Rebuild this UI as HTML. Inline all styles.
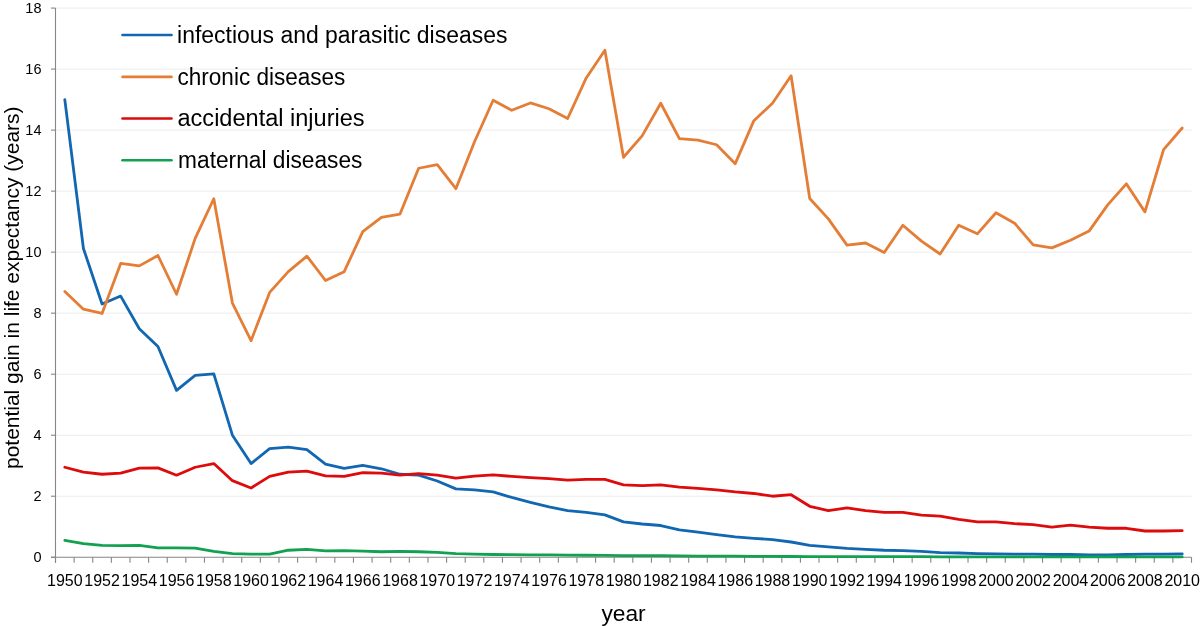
<!DOCTYPE html><html><head><meta charset="utf-8"><style>html,body{margin:0;padding:0;background:#fff;}svg{display:block;will-change:transform;}text{font-family:"Liberation Sans",sans-serif;fill:#000;}</style></head><body>
<svg width="1200" height="626" viewBox="0 0 1200 626">
<rect x="0" y="0" width="1200" height="626" fill="#fff"/>
<line x1="55.5" y1="496.23" x2="1191.5" y2="496.23" stroke="#ececec" stroke-width="1"/>
<line x1="55.5" y1="435.21" x2="1191.5" y2="435.21" stroke="#ececec" stroke-width="1"/>
<line x1="55.5" y1="374.19" x2="1191.5" y2="374.19" stroke="#ececec" stroke-width="1"/>
<line x1="55.5" y1="313.17" x2="1191.5" y2="313.17" stroke="#ececec" stroke-width="1"/>
<line x1="55.5" y1="252.15" x2="1191.5" y2="252.15" stroke="#ececec" stroke-width="1"/>
<line x1="55.5" y1="191.13" x2="1191.5" y2="191.13" stroke="#ececec" stroke-width="1"/>
<line x1="55.5" y1="130.11" x2="1191.5" y2="130.11" stroke="#ececec" stroke-width="1"/>
<line x1="55.5" y1="69.09" x2="1191.5" y2="69.09" stroke="#ececec" stroke-width="1"/>
<line x1="55.5" y1="8.07" x2="1191.5" y2="8.07" stroke="#ececec" stroke-width="1"/>
<line x1="55.5" y1="8.07" x2="55.5" y2="562.75" stroke="#868686" stroke-width="1.1"/>
<line x1="51.0" y1="557.25" x2="1191.5" y2="557.25" stroke="#868686" stroke-width="1.1"/>
<line x1="51.0" y1="557.25" x2="55.5" y2="557.25" stroke="#868686" stroke-width="1.1"/>
<line x1="51.0" y1="496.23" x2="55.5" y2="496.23" stroke="#868686" stroke-width="1.1"/>
<line x1="51.0" y1="435.21" x2="55.5" y2="435.21" stroke="#868686" stroke-width="1.1"/>
<line x1="51.0" y1="374.19" x2="55.5" y2="374.19" stroke="#868686" stroke-width="1.1"/>
<line x1="51.0" y1="313.17" x2="55.5" y2="313.17" stroke="#868686" stroke-width="1.1"/>
<line x1="51.0" y1="252.15" x2="55.5" y2="252.15" stroke="#868686" stroke-width="1.1"/>
<line x1="51.0" y1="191.13" x2="55.5" y2="191.13" stroke="#868686" stroke-width="1.1"/>
<line x1="51.0" y1="130.11" x2="55.5" y2="130.11" stroke="#868686" stroke-width="1.1"/>
<line x1="51.0" y1="69.09" x2="55.5" y2="69.09" stroke="#868686" stroke-width="1.1"/>
<line x1="51.0" y1="8.07" x2="55.5" y2="8.07" stroke="#868686" stroke-width="1.1"/>
<line x1="55.50" y1="557.25" x2="55.50" y2="562.75" stroke="#868686" stroke-width="1.1"/>
<line x1="74.12" y1="557.25" x2="74.12" y2="562.75" stroke="#868686" stroke-width="1.1"/>
<line x1="92.75" y1="557.25" x2="92.75" y2="562.75" stroke="#868686" stroke-width="1.1"/>
<line x1="111.37" y1="557.25" x2="111.37" y2="562.75" stroke="#868686" stroke-width="1.1"/>
<line x1="129.99" y1="557.25" x2="129.99" y2="562.75" stroke="#868686" stroke-width="1.1"/>
<line x1="148.61" y1="557.25" x2="148.61" y2="562.75" stroke="#868686" stroke-width="1.1"/>
<line x1="167.24" y1="557.25" x2="167.24" y2="562.75" stroke="#868686" stroke-width="1.1"/>
<line x1="185.86" y1="557.25" x2="185.86" y2="562.75" stroke="#868686" stroke-width="1.1"/>
<line x1="204.48" y1="557.25" x2="204.48" y2="562.75" stroke="#868686" stroke-width="1.1"/>
<line x1="223.11" y1="557.25" x2="223.11" y2="562.75" stroke="#868686" stroke-width="1.1"/>
<line x1="241.73" y1="557.25" x2="241.73" y2="562.75" stroke="#868686" stroke-width="1.1"/>
<line x1="260.35" y1="557.25" x2="260.35" y2="562.75" stroke="#868686" stroke-width="1.1"/>
<line x1="278.98" y1="557.25" x2="278.98" y2="562.75" stroke="#868686" stroke-width="1.1"/>
<line x1="297.60" y1="557.25" x2="297.60" y2="562.75" stroke="#868686" stroke-width="1.1"/>
<line x1="316.22" y1="557.25" x2="316.22" y2="562.75" stroke="#868686" stroke-width="1.1"/>
<line x1="334.84" y1="557.25" x2="334.84" y2="562.75" stroke="#868686" stroke-width="1.1"/>
<line x1="353.47" y1="557.25" x2="353.47" y2="562.75" stroke="#868686" stroke-width="1.1"/>
<line x1="372.09" y1="557.25" x2="372.09" y2="562.75" stroke="#868686" stroke-width="1.1"/>
<line x1="390.71" y1="557.25" x2="390.71" y2="562.75" stroke="#868686" stroke-width="1.1"/>
<line x1="409.34" y1="557.25" x2="409.34" y2="562.75" stroke="#868686" stroke-width="1.1"/>
<line x1="427.96" y1="557.25" x2="427.96" y2="562.75" stroke="#868686" stroke-width="1.1"/>
<line x1="446.58" y1="557.25" x2="446.58" y2="562.75" stroke="#868686" stroke-width="1.1"/>
<line x1="465.20" y1="557.25" x2="465.20" y2="562.75" stroke="#868686" stroke-width="1.1"/>
<line x1="483.83" y1="557.25" x2="483.83" y2="562.75" stroke="#868686" stroke-width="1.1"/>
<line x1="502.45" y1="557.25" x2="502.45" y2="562.75" stroke="#868686" stroke-width="1.1"/>
<line x1="521.07" y1="557.25" x2="521.07" y2="562.75" stroke="#868686" stroke-width="1.1"/>
<line x1="539.70" y1="557.25" x2="539.70" y2="562.75" stroke="#868686" stroke-width="1.1"/>
<line x1="558.32" y1="557.25" x2="558.32" y2="562.75" stroke="#868686" stroke-width="1.1"/>
<line x1="576.94" y1="557.25" x2="576.94" y2="562.75" stroke="#868686" stroke-width="1.1"/>
<line x1="595.57" y1="557.25" x2="595.57" y2="562.75" stroke="#868686" stroke-width="1.1"/>
<line x1="614.19" y1="557.25" x2="614.19" y2="562.75" stroke="#868686" stroke-width="1.1"/>
<line x1="632.81" y1="557.25" x2="632.81" y2="562.75" stroke="#868686" stroke-width="1.1"/>
<line x1="651.43" y1="557.25" x2="651.43" y2="562.75" stroke="#868686" stroke-width="1.1"/>
<line x1="670.06" y1="557.25" x2="670.06" y2="562.75" stroke="#868686" stroke-width="1.1"/>
<line x1="688.68" y1="557.25" x2="688.68" y2="562.75" stroke="#868686" stroke-width="1.1"/>
<line x1="707.30" y1="557.25" x2="707.30" y2="562.75" stroke="#868686" stroke-width="1.1"/>
<line x1="725.93" y1="557.25" x2="725.93" y2="562.75" stroke="#868686" stroke-width="1.1"/>
<line x1="744.55" y1="557.25" x2="744.55" y2="562.75" stroke="#868686" stroke-width="1.1"/>
<line x1="763.17" y1="557.25" x2="763.17" y2="562.75" stroke="#868686" stroke-width="1.1"/>
<line x1="781.80" y1="557.25" x2="781.80" y2="562.75" stroke="#868686" stroke-width="1.1"/>
<line x1="800.42" y1="557.25" x2="800.42" y2="562.75" stroke="#868686" stroke-width="1.1"/>
<line x1="819.04" y1="557.25" x2="819.04" y2="562.75" stroke="#868686" stroke-width="1.1"/>
<line x1="837.66" y1="557.25" x2="837.66" y2="562.75" stroke="#868686" stroke-width="1.1"/>
<line x1="856.29" y1="557.25" x2="856.29" y2="562.75" stroke="#868686" stroke-width="1.1"/>
<line x1="874.91" y1="557.25" x2="874.91" y2="562.75" stroke="#868686" stroke-width="1.1"/>
<line x1="893.53" y1="557.25" x2="893.53" y2="562.75" stroke="#868686" stroke-width="1.1"/>
<line x1="912.16" y1="557.25" x2="912.16" y2="562.75" stroke="#868686" stroke-width="1.1"/>
<line x1="930.78" y1="557.25" x2="930.78" y2="562.75" stroke="#868686" stroke-width="1.1"/>
<line x1="949.40" y1="557.25" x2="949.40" y2="562.75" stroke="#868686" stroke-width="1.1"/>
<line x1="968.02" y1="557.25" x2="968.02" y2="562.75" stroke="#868686" stroke-width="1.1"/>
<line x1="986.65" y1="557.25" x2="986.65" y2="562.75" stroke="#868686" stroke-width="1.1"/>
<line x1="1005.27" y1="557.25" x2="1005.27" y2="562.75" stroke="#868686" stroke-width="1.1"/>
<line x1="1023.89" y1="557.25" x2="1023.89" y2="562.75" stroke="#868686" stroke-width="1.1"/>
<line x1="1042.52" y1="557.25" x2="1042.52" y2="562.75" stroke="#868686" stroke-width="1.1"/>
<line x1="1061.14" y1="557.25" x2="1061.14" y2="562.75" stroke="#868686" stroke-width="1.1"/>
<line x1="1079.76" y1="557.25" x2="1079.76" y2="562.75" stroke="#868686" stroke-width="1.1"/>
<line x1="1098.39" y1="557.25" x2="1098.39" y2="562.75" stroke="#868686" stroke-width="1.1"/>
<line x1="1117.01" y1="557.25" x2="1117.01" y2="562.75" stroke="#868686" stroke-width="1.1"/>
<line x1="1135.63" y1="557.25" x2="1135.63" y2="562.75" stroke="#868686" stroke-width="1.1"/>
<line x1="1154.25" y1="557.25" x2="1154.25" y2="562.75" stroke="#868686" stroke-width="1.1"/>
<line x1="1172.88" y1="557.25" x2="1172.88" y2="562.75" stroke="#868686" stroke-width="1.1"/>
<line x1="1191.50" y1="557.25" x2="1191.50" y2="562.75" stroke="#868686" stroke-width="1.1"/>
<text x="41.5" y="562.15" font-size="14.5" text-anchor="end">0</text>
<text x="41.5" y="501.13" font-size="14.5" text-anchor="end">2</text>
<text x="41.5" y="440.11" font-size="14.5" text-anchor="end">4</text>
<text x="41.5" y="379.09" font-size="14.5" text-anchor="end">6</text>
<text x="41.5" y="318.07" font-size="14.5" text-anchor="end">8</text>
<text x="41.5" y="257.05" font-size="14.5" text-anchor="end">10</text>
<text x="41.5" y="196.03" font-size="14.5" text-anchor="end">12</text>
<text x="41.5" y="135.01" font-size="14.5" text-anchor="end">14</text>
<text x="41.5" y="73.99" font-size="14.5" text-anchor="end">16</text>
<text x="41.5" y="12.97" font-size="14.5" text-anchor="end">18</text>
<text x="64.81" y="585.8" font-size="16.4" text-anchor="middle" textLength="35.6" lengthAdjust="spacingAndGlyphs">1950</text>
<text x="102.06" y="585.8" font-size="16.4" text-anchor="middle" textLength="35.6" lengthAdjust="spacingAndGlyphs">1952</text>
<text x="139.30" y="585.8" font-size="16.4" text-anchor="middle" textLength="35.6" lengthAdjust="spacingAndGlyphs">1954</text>
<text x="176.55" y="585.8" font-size="16.4" text-anchor="middle" textLength="35.6" lengthAdjust="spacingAndGlyphs">1956</text>
<text x="213.80" y="585.8" font-size="16.4" text-anchor="middle" textLength="35.6" lengthAdjust="spacingAndGlyphs">1958</text>
<text x="251.04" y="585.8" font-size="16.4" text-anchor="middle" textLength="35.6" lengthAdjust="spacingAndGlyphs">1960</text>
<text x="288.29" y="585.8" font-size="16.4" text-anchor="middle" textLength="35.6" lengthAdjust="spacingAndGlyphs">1962</text>
<text x="325.53" y="585.8" font-size="16.4" text-anchor="middle" textLength="35.6" lengthAdjust="spacingAndGlyphs">1964</text>
<text x="362.78" y="585.8" font-size="16.4" text-anchor="middle" textLength="35.6" lengthAdjust="spacingAndGlyphs">1966</text>
<text x="400.02" y="585.8" font-size="16.4" text-anchor="middle" textLength="35.6" lengthAdjust="spacingAndGlyphs">1968</text>
<text x="437.27" y="585.8" font-size="16.4" text-anchor="middle" textLength="35.6" lengthAdjust="spacingAndGlyphs">1970</text>
<text x="474.52" y="585.8" font-size="16.4" text-anchor="middle" textLength="35.6" lengthAdjust="spacingAndGlyphs">1972</text>
<text x="511.76" y="585.8" font-size="16.4" text-anchor="middle" textLength="35.6" lengthAdjust="spacingAndGlyphs">1974</text>
<text x="549.01" y="585.8" font-size="16.4" text-anchor="middle" textLength="35.6" lengthAdjust="spacingAndGlyphs">1976</text>
<text x="586.25" y="585.8" font-size="16.4" text-anchor="middle" textLength="35.6" lengthAdjust="spacingAndGlyphs">1978</text>
<text x="623.50" y="585.8" font-size="16.4" text-anchor="middle" textLength="35.6" lengthAdjust="spacingAndGlyphs">1980</text>
<text x="660.75" y="585.8" font-size="16.4" text-anchor="middle" textLength="35.6" lengthAdjust="spacingAndGlyphs">1982</text>
<text x="697.99" y="585.8" font-size="16.4" text-anchor="middle" textLength="35.6" lengthAdjust="spacingAndGlyphs">1984</text>
<text x="735.24" y="585.8" font-size="16.4" text-anchor="middle" textLength="35.6" lengthAdjust="spacingAndGlyphs">1986</text>
<text x="772.48" y="585.8" font-size="16.4" text-anchor="middle" textLength="35.6" lengthAdjust="spacingAndGlyphs">1988</text>
<text x="809.73" y="585.8" font-size="16.4" text-anchor="middle" textLength="35.6" lengthAdjust="spacingAndGlyphs">1990</text>
<text x="846.98" y="585.8" font-size="16.4" text-anchor="middle" textLength="35.6" lengthAdjust="spacingAndGlyphs">1992</text>
<text x="884.22" y="585.8" font-size="16.4" text-anchor="middle" textLength="35.6" lengthAdjust="spacingAndGlyphs">1994</text>
<text x="921.47" y="585.8" font-size="16.4" text-anchor="middle" textLength="35.6" lengthAdjust="spacingAndGlyphs">1996</text>
<text x="958.71" y="585.8" font-size="16.4" text-anchor="middle" textLength="35.6" lengthAdjust="spacingAndGlyphs">1998</text>
<text x="995.96" y="585.8" font-size="16.4" text-anchor="middle" textLength="35.6" lengthAdjust="spacingAndGlyphs">2000</text>
<text x="1033.20" y="585.8" font-size="16.4" text-anchor="middle" textLength="35.6" lengthAdjust="spacingAndGlyphs">2002</text>
<text x="1070.45" y="585.8" font-size="16.4" text-anchor="middle" textLength="35.6" lengthAdjust="spacingAndGlyphs">2004</text>
<text x="1107.70" y="585.8" font-size="16.4" text-anchor="middle" textLength="35.6" lengthAdjust="spacingAndGlyphs">2006</text>
<text x="1144.94" y="585.8" font-size="16.4" text-anchor="middle" textLength="35.6" lengthAdjust="spacingAndGlyphs">2008</text>
<text x="1182.19" y="585.8" font-size="16.4" text-anchor="middle" textLength="35.6" lengthAdjust="spacingAndGlyphs">2010</text>
<polyline points="64.81,99.60 83.43,248.49 102.06,304.02 120.68,296.08 139.30,328.73 157.93,346.43 176.55,390.36 195.17,375.41 213.80,373.88 232.42,435.21 251.04,463.58 269.66,448.63 288.29,447.11 306.91,449.55 325.53,464.19 344.16,468.47 362.78,465.41 381.40,468.77 400.02,474.26 418.65,475.18 437.27,480.98 455.89,488.91 474.52,489.82 493.14,491.96 511.76,497.45 530.39,502.33 549.01,506.91 567.63,510.57 586.25,512.40 604.88,514.84 623.50,521.86 642.12,523.99 660.75,525.52 679.37,529.79 697.99,532.23 716.61,534.67 735.24,536.81 753.86,538.33 772.48,539.55 791.11,542.00 809.73,545.35 828.35,546.88 846.98,548.40 865.60,549.32 884.22,550.23 902.84,550.54 921.47,551.45 940.09,552.67 958.71,552.98 977.34,553.59 995.96,553.89 1014.58,554.20 1033.20,554.20 1051.83,554.50 1070.45,554.50 1089.07,554.81 1107.70,554.81 1126.32,554.50 1144.94,554.20 1163.57,554.20 1182.19,553.89" fill="none" stroke="#1167b1" stroke-width="2.8" stroke-linejoin="round" stroke-linecap="round"/>
<polyline points="64.81,291.51 83.43,309.20 102.06,313.48 120.68,263.44 139.30,265.88 157.93,255.51 176.55,294.25 195.17,238.42 213.80,198.76 232.42,303.10 251.04,340.63 269.66,292.42 288.29,271.68 306.91,256.12 325.53,280.52 344.16,271.68 362.78,231.71 381.40,217.37 400.02,214.01 418.65,168.25 437.27,164.59 455.89,188.69 474.52,141.70 493.14,100.21 511.76,110.28 530.39,102.96 549.01,108.75 567.63,118.52 586.25,77.94 604.88,50.17 623.50,157.26 642.12,135.91 660.75,103.26 679.37,138.65 697.99,140.18 716.61,144.75 735.24,163.67 753.86,120.65 772.48,103.26 791.11,75.80 809.73,198.45 828.35,218.89 846.98,245.13 865.60,243.00 884.22,252.46 902.84,225.30 921.47,241.17 940.09,253.98 958.71,225.30 977.34,233.84 995.96,212.79 1014.58,223.17 1033.20,244.83 1051.83,247.88 1070.45,240.25 1089.07,231.10 1107.70,204.86 1126.32,183.81 1144.94,211.88 1163.57,149.64 1182.19,127.97" fill="none" stroke="#e47d35" stroke-width="2.8" stroke-linejoin="round" stroke-linecap="round"/>
<polyline points="64.81,467.25 83.43,472.13 102.06,474.26 120.68,473.04 139.30,468.16 157.93,467.86 176.55,475.18 195.17,467.25 213.80,463.58 232.42,480.67 251.04,487.99 269.66,476.40 288.29,472.13 306.91,471.21 325.53,475.79 344.16,476.40 362.78,472.74 381.40,473.04 400.02,475.18 418.65,473.65 437.27,475.18 455.89,478.23 474.52,476.09 493.14,474.87 511.76,476.40 530.39,477.62 549.01,478.53 567.63,480.06 586.25,479.45 604.88,479.45 623.50,484.94 642.12,485.55 660.75,484.94 679.37,487.08 697.99,488.30 716.61,489.82 735.24,491.96 753.86,493.48 772.48,496.23 791.11,494.70 809.73,506.30 828.35,510.57 846.98,507.82 865.60,510.57 884.22,512.40 902.84,512.40 921.47,515.15 940.09,516.06 958.71,519.42 977.34,521.86 995.96,521.86 1014.58,523.69 1033.20,524.60 1051.83,527.05 1070.45,525.21 1089.07,527.05 1107.70,528.27 1126.32,528.27 1144.94,531.01 1163.57,531.01 1182.19,530.71" fill="none" stroke="#dd0b0b" stroke-width="2.8" stroke-linejoin="round" stroke-linecap="round"/>
<polyline points="64.81,540.47 83.43,543.52 102.06,545.35 120.68,545.66 139.30,545.35 157.93,547.79 176.55,547.79 195.17,548.10 213.80,551.45 232.42,553.59 251.04,554.20 269.66,554.20 288.29,550.23 306.91,549.32 325.53,550.84 344.16,550.54 362.78,551.15 381.40,551.76 400.02,551.45 418.65,551.76 437.27,552.37 455.89,553.59 474.52,554.20 493.14,554.50 511.76,554.66 530.39,554.81 549.01,554.96 567.63,555.11 586.25,555.27 604.88,555.42 623.50,555.57 642.12,555.72 660.75,555.72 679.37,555.88 697.99,556.03 716.61,556.03 735.24,556.18 753.86,556.33 772.48,556.33 791.11,556.49 809.73,556.64 828.35,556.64 846.98,556.64 865.60,556.64 884.22,556.64 902.84,556.64 921.47,556.64 940.09,556.79 958.71,556.79 977.34,556.79 995.96,556.79 1014.58,556.79 1033.20,556.94 1051.83,556.94 1070.45,556.94 1089.07,556.94 1107.70,556.94 1126.32,556.94 1144.94,556.94 1163.57,556.94 1182.19,556.94" fill="none" stroke="#12a150" stroke-width="2.8" stroke-linejoin="round" stroke-linecap="round"/>
<line x1="122.5" y1="35.05" x2="171.5" y2="35.05" stroke="#1167b1" stroke-width="2.6" stroke-linecap="round"/>
<text x="177.1" y="42.9" font-size="23.3" textLength="330.3" lengthAdjust="spacingAndGlyphs">infectious and parasitic diseases</text>
<line x1="122.5" y1="76.9" x2="171.5" y2="76.9" stroke="#e47d35" stroke-width="2.6" stroke-linecap="round"/>
<text x="177.5" y="84.57" font-size="23.3" textLength="167.9" lengthAdjust="spacingAndGlyphs">chronic diseases</text>
<line x1="122.5" y1="118.5" x2="171.5" y2="118.5" stroke="#dd0b0b" stroke-width="2.6" stroke-linecap="round"/>
<text x="177.5" y="126.24" font-size="23.3" textLength="187.1" lengthAdjust="spacingAndGlyphs">accidental injuries</text>
<line x1="122.5" y1="160.25" x2="171.5" y2="160.25" stroke="#12a150" stroke-width="2.6" stroke-linecap="round"/>
<text x="178.1" y="167.9" font-size="23.3" textLength="184.3" lengthAdjust="spacingAndGlyphs">maternal diseases</text>
<text x="601.4" y="620.7" font-size="22.7" textLength="44.3" lengthAdjust="spacingAndGlyphs">year</text>
<text transform="translate(18.7,469) rotate(-90)" x="0" y="0" font-size="20.8" textLength="362.5" lengthAdjust="spacingAndGlyphs">potential gain in life expectancy (years)</text>
</svg></body></html>
